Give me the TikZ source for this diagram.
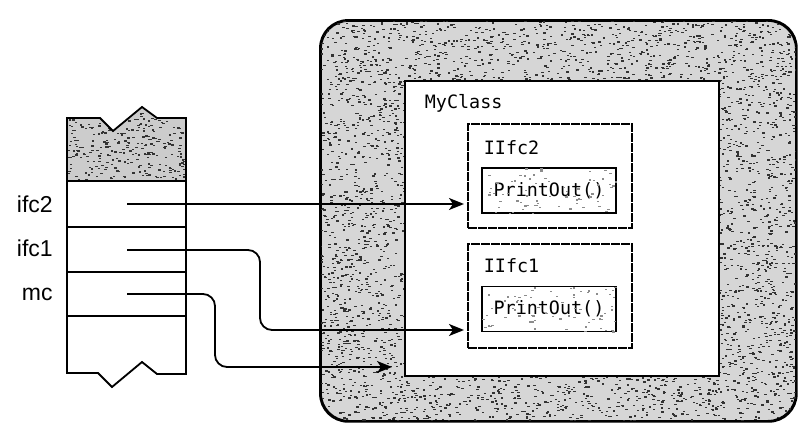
\documentclass[tikz,border=0pt]{standalone}
\usepackage{fontspec}
\setmainfont{Liberation Sans}
\newfontfamily\codefont{DejaVu Sans Mono}
\usetikzlibrary{arrows.meta}

% random specks: x, y, width, height, count, colour
\newcommand{\speckle}[6]{%
  \foreach \k in {1,...,#5}{%
    \fill[#6] ({#1+rnd*#3},{#2+rnd*#4}) rectangle ++(2.4,1.3);}}

\begin{document}
\begin{tikzpicture}[x=1pt,y=-1pt,line width=1.8pt,
  heapbox/.style={draw, fill=black!16, rounded corners=28pt, anchor=north west,
    minimum width=475pt, minimum height=400pt, inner sep=0pt},
  clsbox/.style={draw, fill=white, anchor=north west, inner sep=0pt,
    minimum width=314pt, minimum height=295pt},
  ifcbox/.style={draw, fill=white, dash pattern=on 9pt off 1pt, anchor=north west,
    inner sep=0pt, minimum width=164pt, minimum height=104pt},
  methbox/.style={draw, fill=white, inner sep=0pt, minimum width=134pt,
    minimum height=45pt, font=\codefont\fontsize{18.4pt}{22pt}\selectfont},
  code/.style={anchor=base west, inner sep=0pt,
    font=\codefont\fontsize{18.4pt}{22pt}\selectfont},
  varlbl/.style={anchor=base west, inner sep=0pt, font=\fontsize{23pt}{26pt}\selectfont},
  ptr/.style={-{Stealth[length=15pt,width=12pt,inset=4pt]}, rounded corners=12pt}]
\useasboundingbox (0,0) rectangle (812,436);
\pgfmathsetseed{42}

% heap
\node[heapbox] (heap) at (320,20) {};
\begin{scope}
\clip[rounded corners=28pt] (heap.south west) rectangle (heap.north east);
\speckle{320}{20}{475}{60}{900}{black!80}
\speckle{320}{375}{475}{45}{680}{black!80}
\speckle{320}{80}{84}{295}{790}{black!80}
\speckle{718}{80}{77}{295}{720}{black!80}
\end{scope}
\draw[rounded corners=28pt] (heap.south west) rectangle (heap.north east);

\node[clsbox] (mybox) at (404,80) {};
\node[code] (tmy) at ([shift={(20,28)}]mybox.north west) {MyClass};

\node[ifcbox] (ifc2box) at (467,123) {};
\node[code] (tifc2) at ([shift={(16,31)}]ifc2box.north west) {IIfc2};
\node[methbox] (pr2) at (549,190.5) {PrintOut()};

\node[ifcbox] (ifc1box) at (467,243) {};
\node[code] (tifc1) at ([shift={(16,29)}]ifc1box.north west) {IIfc1};
\node[methbox] (pr1) at (549,309) {PrintOut()};

\begin{scope}
\clip (pr2.south west) rectangle (pr2.north east);
\speckle{482}{168}{134}{45}{70}{black!45}
\end{scope}
\begin{scope}
\clip (pr1.south west) rectangle (pr1.north east);
\speckle{482}{286}{134}{46}{70}{black!45}
\end{scope}

% stack
\begin{scope}
\clip (67,181) -- (67,118) -- (100,118) -- (113,131) -- (142,107) -- (157,118)
  -- (186,118) -- (186,181) -- cycle;
\fill[black!20] (60,100) rectangle (190,181);
\speckle{67}{105}{119}{76}{330}{black!80}
\end{scope}
\draw[line join=miter] (67,118) -- (100,118) -- (113,131) -- (142,107) -- (157,118)
  -- (186,118) -- (186,374) -- (157,374) -- (142,362) -- (112,387) -- (98,373)
  -- (67,373) -- cycle;
\foreach \y in {181,227,272,316}
  \draw (67,\y) -- (186,\y);

\node[varlbl] (nifc2) at (16,212) {ifc2};
\node[varlbl] (nifc1) at (16,256) {ifc1};
\node[varlbl] (nmc) at (21,300) {mc};

\coordinate (sifc2) at (127,204);
\coordinate (sifc1) at (127,250);
\coordinate (smc) at (127,294);
\coordinate (bend1) at (260,330);
\coordinate (bend0) at (215,367);

% references
\draw[ptr, shorten >=3pt] (sifc2) -- (ifc2box.west |- sifc2);
\draw[ptr, shorten >=3pt] (sifc1) -| (bend1) -- (ifc1box.west |- bend1);
\draw[ptr, shorten >=12pt] (smc) -| (bend0) -- (mybox.west |- bend0);
\end{tikzpicture}
\end{document}
